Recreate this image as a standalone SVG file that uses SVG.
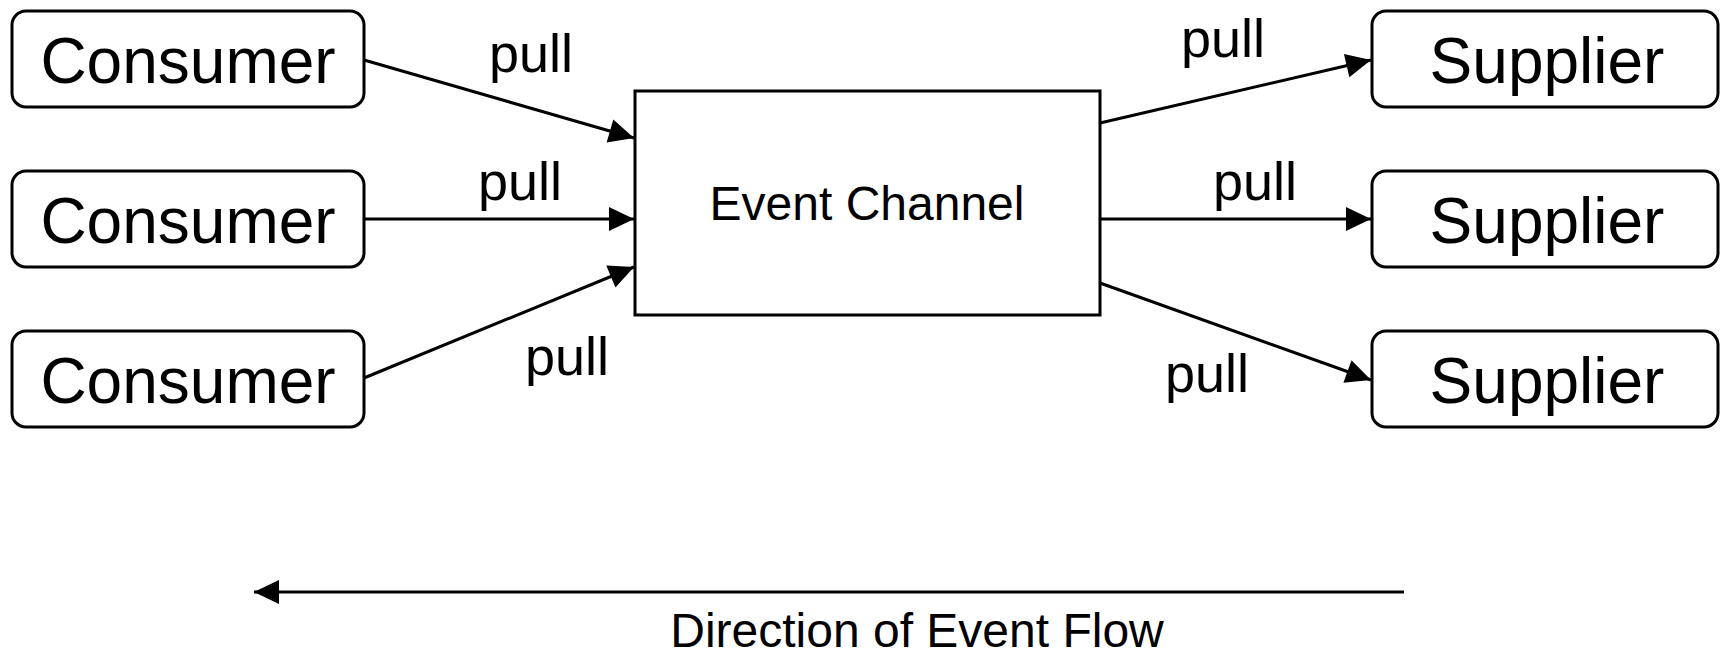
<svg xmlns="http://www.w3.org/2000/svg" width="1720" height="655" viewBox="0 0 1720 655">
<style>
.box{fill:#fff;stroke:#000;stroke-width:3}
.lbl{font-family:"Liberation Sans",Arial,sans-serif;fill:#000;text-anchor:middle}
.big{font-size:64px}
.mid{font-size:48px}
.pull{font-size:54px}
.conn{stroke:#000;stroke-width:3;fill:none;marker-end:url(#ah)}
</style>
<defs>
<marker id="ah" markerUnits="userSpaceOnUse" markerWidth="26" markerHeight="24" refX="25" refY="12" orient="auto" overflow="visible">
<path d="M0,0 L25,12 L0,24 Z" fill="#000"/>
</marker>
</defs>
<rect width="1720" height="655" fill="#fff"/>
<g id="connectors">
<line class="conn" x1="364" y1="60" x2="634" y2="138"/>
<line class="conn" x1="364" y1="219" x2="634" y2="219"/>
<line class="conn" x1="364" y1="378" x2="634" y2="267"/>
<line class="conn" x1="1100" y1="123" x2="1371" y2="60"/>
<line class="conn" x1="1100" y1="219" x2="1371" y2="219"/>
<line class="conn" x1="1100" y1="283" x2="1371" y2="380"/>
<line class="conn" x1="1404" y1="592" x2="254" y2="592"/>
<text class="lbl pull" x="531" y="72">pull</text>
<text class="lbl pull" x="520" y="200">pull</text>
<text class="lbl pull" x="567" y="375">pull</text>
<text class="lbl pull" x="1223" y="57">pull</text>
<text class="lbl pull" x="1255" y="200">pull</text>
<text class="lbl pull" x="1207" y="392">pull</text>
<text class="lbl mid" x="917" y="647">Direction of Event Flow</text>
</g>
<g id="consumer1"><rect class="box" x="12" y="11" width="352" height="96" rx="14"/><text class="lbl big" x="188" y="83">Consumer</text></g>
<g id="consumer2"><rect class="box" x="12" y="171" width="352" height="96" rx="14"/><text class="lbl big" x="188" y="243">Consumer</text></g>
<g id="consumer3"><rect class="box" x="12" y="331" width="352" height="96" rx="14"/><text class="lbl big" x="188" y="403">Consumer</text></g>
<g id="event-channel"><rect class="box" x="635" y="91" width="465" height="224"/><text class="lbl mid" x="867" y="220">Event Channel</text></g>
<g id="supplier1"><rect class="box" x="1372" y="11" width="346" height="96" rx="14"/><text class="lbl big" x="1547" y="83">Supplier</text></g>
<g id="supplier2"><rect class="box" x="1372" y="171" width="346" height="96" rx="14"/><text class="lbl big" x="1547" y="243">Supplier</text></g>
<g id="supplier3"><rect class="box" x="1372" y="331" width="346" height="96" rx="14"/><text class="lbl big" x="1547" y="403">Supplier</text></g>
</svg>
